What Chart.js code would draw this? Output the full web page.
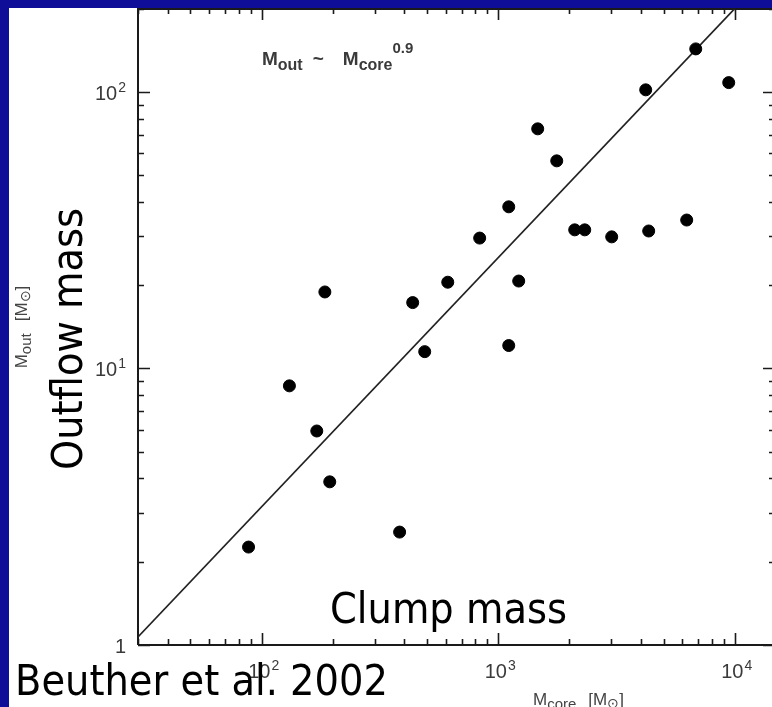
<!DOCTYPE html>
<html><head><meta charset="utf-8">
<script src="https://cdn.jsdelivr.net/npm/chart.js@4"></script>
<style>html,body{margin:0;padding:0;background:#0e0e98;overflow:hidden}#wrap{width:772px;height:707px;position:relative;overflow:hidden}</style>
</head><body><div id="wrap"><canvas id="c" width="790" height="707"></canvas></div>
<script>
// ---- data ----
const coreMass    = [88, 131, 171, 185, 194, 383, 435, 489, 612, 835, 1108, 1108, 1221, 1469, 1768, 2106, 2322, 3019, 4204, 4328, 6266, 6842, 9432];
const outflowMass = [2.26, 8.65, 5.94, 18.9, 3.89, 2.56, 17.3, 11.5, 20.5, 29.6, 38.4, 12.1, 20.7, 73.5, 56.3, 31.7, 31.7, 29.9, 101.7, 31.4, 34.4, 143, 108];
const fitCore     = [30, 10000];
const fitOutflow  = [1.07, 200];
const xTickValues = [100, 1000, 10000];
const xTickLabels = ['10^2', '10^3', '10^4'];
const yTickValues = [1, 10, 100];
const yTickLabels = ['1', '10^1', '10^2'];
const xDecades    = [1, 2, 3, 4];
const yDecades    = [0, 1, 2];
const captionX    = 'Clump mass';
const captionY    = 'Outflow mass';
const sourceText  = 'Beuther et al. 2002';

const BIG_FAMILY = '"DejaVu Sans Condensed", "DejaVu Sans", sans-serif';
const SMALL_FAMILY = '"Liberation Sans", Arial, sans-serif';

function fitSize(ctx, text, family, target){
  ctx.font = '100px ' + family;
  return 100 * target / ctx.measureText(text).width;
}
function drawPow(ctx, label, x, baseY, align){
  const parts = label.split('^');
  const base = parts[0], exp = parts[1] || '';
  const bf = '20px ' + SMALL_FAMILY, ef = '14px ' + SMALL_FAMILY;
  ctx.font = bf; const wb = ctx.measureText(base).width;
  ctx.font = ef; const we = exp ? ctx.measureText(exp).width + 1 : 0;
  const total = wb + we;
  let left = align === 'center' ? x - total/2 : (align === 'right' ? x - total : x);
  ctx.textAlign = 'left'; ctx.textBaseline = 'alphabetic';
  ctx.font = bf; ctx.fillText(base, left, baseY);
  if (exp){ ctx.font = ef; ctx.fillText(exp, left + wb + 1, baseY - 8); }
}
function richWidth(ctx, segs){
  let w = 0;
  segs.forEach(s => { ctx.font = s.f; w += ctx.measureText(s.t).width + (s.gap || 0); });
  return w;
}
function drawRich(ctx, segs, x, y){
  ctx.textAlign = 'left'; ctx.textBaseline = 'alphabetic';
  let cx = x;
  segs.forEach(s => { ctx.font = s.f; ctx.fillText(s.t, cx, y + (s.dy || 0)); cx += ctx.measureText(s.t).width + (s.gap || 0); });
}

const framePlugin = {
  id: 'frame',
  beforeDraw(chart){
    const ctx = chart.ctx;
    ctx.save();
    ctx.fillStyle = '#0e0e98';
    ctx.fillRect(0, 0, chart.width, chart.height);
    ctx.fillStyle = '#ffffff';
    ctx.fillRect(9, 8, chart.width - 9, chart.height - 8);
    ctx.restore();
  },
  beforeDatasetsDraw(chart){
    const ctx = chart.ctx, a = chart.chartArea;
    const xs = chart.scales.x, ys = chart.scales.y;
    ctx.save();
    ctx.strokeStyle = '#1a1a1a';
    ctx.lineWidth = 2;
    ctx.beginPath();
    ctx.moveTo(a.left, a.top); ctx.lineTo(a.left, a.bottom);
    ctx.moveTo(a.left, a.bottom); ctx.lineTo(a.right, a.bottom);
    ctx.moveTo(a.left, a.top + 1); ctx.lineTo(a.right, a.top + 1);
    ctx.moveTo(a.right, a.top); ctx.lineTo(a.right, a.bottom);
    ctx.stroke();
    ctx.lineWidth = 1.6;
    ctx.beginPath();
    xDecades.forEach(d => {
      for (let m = 1; m <= 9; m++){
        const v = m * Math.pow(10, d);
        if (v < xs.min || v > xs.max) continue;
        const px = Math.round(xs.getPixelForValue(v)) + 0.5;
        const len = m === 1 ? 12 : 6;
        ctx.moveTo(px, a.bottom); ctx.lineTo(px, a.bottom - len);
        ctx.moveTo(px, a.top); ctx.lineTo(px, a.top + len);
      }
    });
    yDecades.forEach(d => {
      for (let m = 1; m <= 9; m++){
        const v = m * Math.pow(10, d);
        if (v < ys.min || v > ys.max) continue;
        const py = Math.round(ys.getPixelForValue(v)) + 0.5;
        const len = m === 1 ? 12 : 6;
        ctx.moveTo(a.left, py); ctx.lineTo(a.left + len, py);
        ctx.moveTo(a.right, py); ctx.lineTo(a.right - len, py);
      }
    });
    ctx.stroke();
    ctx.restore();
  },
  afterDraw(chart){
    const ctx = chart.ctx, a = chart.chartArea;
    const xs = chart.scales.x, ys = chart.scales.y;
    ctx.save();
    // tick labels
    ctx.fillStyle = '#3a3a3a';
    xTickValues.forEach((v, i) => drawPow(ctx, xTickLabels[i], xs.getPixelForValue(v) + 2, 678, 'center'));
    yTickValues.forEach((v, i) => drawPow(ctx, yTickLabels[i], 126, ys.getPixelForValue(v) + 8, 'right'));

    // relation text
    ctx.fillStyle = '#3a3a3a';
    const mf = 'bold 19px ' + SMALL_FAMILY, sf = 'bold 16px ' + SMALL_FAMILY, pf = 'bold 15px ' + SMALL_FAMILY;
    drawRich(ctx, [
      {t:'M', f:mf}, {t:'out', f:sf, dy:5, gap:10}, {t:'~', f:mf, gap:19},
      {t:'M', f:mf}, {t:'core', f:sf, dy:5}, {t:'0.9', f:pf, dy:-12}
    ], 262, 65);

    // small axis titles
    ctx.fillStyle = '#444';
    const tf = '17px ' + SMALL_FAMILY, tsf = '15px ' + SMALL_FAMILY, osf = '14px ' + SMALL_FAMILY;
    const titleSegs = (sub) => [
      {t:'M', f:tf}, {t:sub, f:tsf, dy:4, gap:12}, {t:'[M', f:tf}, {t:'\u2299', f:osf, dy:3}, {t:']', f:tf}
    ];
    drawRich(ctx, titleSegs('core'), 533, 705);
    const ySegs = titleSegs('out');
    const yw = richWidth(ctx, ySegs);
    ctx.save();
    ctx.translate(27, 327);
    ctx.rotate(-Math.PI/2);
    drawRich(ctx, ySegs, -yw/2, 0);
    ctx.restore();

    // big captions
    ctx.fillStyle = '#000';
    const bigSize = fitSize(ctx, captionX, BIG_FAMILY, 237);
    ctx.font = bigSize.toFixed(2) + 'px ' + BIG_FAMILY;
    ctx.textAlign = 'left'; ctx.textBaseline = 'alphabetic';
    ctx.fillText(captionX, 330, 623);
    ctx.save();
    ctx.translate(82, 470);
    ctx.rotate(-Math.PI/2);
    ctx.fillText(captionY, 0, 0);
    ctx.restore();
    const srcSize = fitSize(ctx, sourceText, BIG_FAMILY, 373);
    ctx.font = srcSize.toFixed(2) + 'px ' + BIG_FAMILY;
    ctx.fillText(sourceText, 15, 695);
    ctx.restore();
  }
};

new Chart(document.getElementById('c').getContext('2d'), {
  type: 'scatter',
  data: {
    datasets: [
      {
        data: coreMass.map((x, i) => ({x: x, y: outflowMass[i]})),
        backgroundColor: '#000', borderColor: '#000', pointRadius: 6, pointHoverRadius: 6, order: 1
      },
      {
        data: fitCore.map((x, i) => ({x: x, y: fitOutflow[i]})),
        showLine: true, borderColor: '#222', borderWidth: 1.6, pointRadius: 0, fill: false, order: 2
      }
    ]
  },
  options: {
    responsive: false, animation: false, devicePixelRatio: 1,
    layout: {autoPadding: false, padding: {left: 138, top: 8, right: 15, bottom: 62}},
    plugins: {legend: {display: false}, tooltip: {enabled: false}},
    scales: {
      x: {type: 'logarithmic', min: 30, max: 14800, display: false},
      y: {type: 'logarithmic', min: 1, max: 201, display: false}
    }
  },
  plugins: [framePlugin]
});
</script>
</body></html>
